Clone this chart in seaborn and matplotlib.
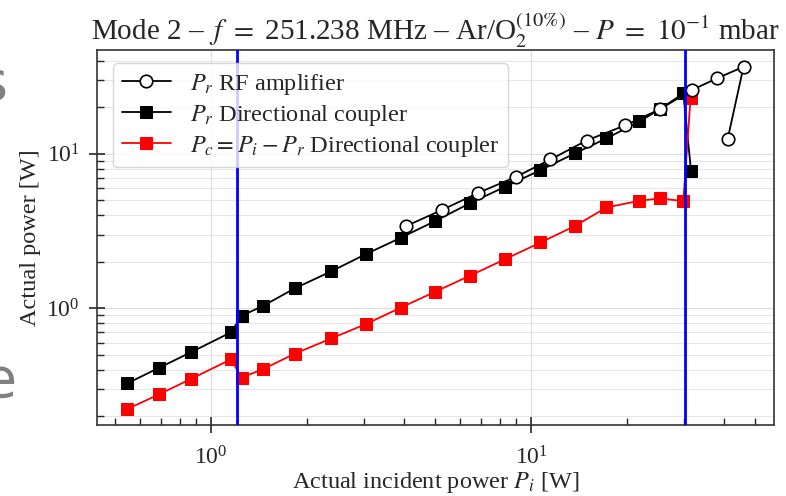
import numpy as np
import pandas as pd
import matplotlib
matplotlib.use("Agg")
import matplotlib.pyplot as plt
import seaborn as sns

# ---- data ----
amp_pi = [4.07, 5.26, 6.85, 8.98, 11.5, 14.9, 19.7, 25.2, 31.8, 38.2, 46.1, 41.1]
amp_pr = [3.41, 4.33, 5.60, 7.11, 9.20, 12.2, 15.3, 19.4, 25.9, 30.9, 36.6, 12.4]

dc_pi = [0.547, 0.689, 0.864, 1.155, 1.247, 1.457, 1.83, 2.38, 3.04, 3.91,
         5.01, 6.45, 8.29, 10.7, 13.7, 17.2, 21.8, 25.2, 29.9, 31.6]
dc_pr = [0.327, 0.413, 0.519, 0.700, 0.896, 1.04, 1.35, 1.74, 2.24, 2.86,
         3.67, 4.80, 6.12, 7.85, 10.07, 12.6, 16.2, 19.4, 24.6, 7.78]
dc_pc = [0.223, 0.278, 0.349, 0.468, 0.357, 0.405, 0.51, 0.64, 0.79, 1.01,
         1.28, 1.63, 2.08, 2.67, 3.41, 4.50, 4.97, 5.15, 4.95, 23.1]
pc_pi = dc_pi[:-1] + [31.5]

vlines = [1.203, 30.3]

title = r"Mode 2 – $\,f$ $=$ 251.238 MHz – Ar/O$_2^{(10\%)}$ – $P$ $=$ $10^{-1}$ mbar"
xlabel = r"Actual incident power $P_i$ [W]"
ylabel = "Actual power [W]"
labels = [r"$P_r$ RF amplifier", r"$P_r$ Directional coupler",
          r"$P_c = P_i - P_r$ Directional coupler"]

# ---- style ----
sns.set_style("ticks")
plt.rcParams["font.family"] = ["Liberation Serif", "DejaVu Serif"]
plt.rcParams["mathtext.fontset"] = "stix"

fig = plt.figure(figsize=(7.86, 4.96), dpi=100)
ax = fig.add_axes([96.5 / 786, 1 - 425 / 496, (774 - 96.5) / 786, (425 - 50) / 496])

df_amp = pd.DataFrame({"x": amp_pi, "y": amp_pr})
df_dc = pd.DataFrame({"x": dc_pi, "y": dc_pr})
df_pc = pd.DataFrame({"x": pc_pi, "y": dc_pc})

sns.lineplot(data=df_amp, x="x", y="y", ax=ax, sort=False, estimator=None,
             color="black", lw=1.3, marker="o", markersize=9,
             markerfacecolor="white", markeredgecolor="black", markeredgewidth=1.2,
             label=labels[0], zorder=4)
sns.lineplot(data=df_dc, x="x", y="y", ax=ax, sort=False, estimator=None,
             color="black", lw=1.3, marker="s", markersize=8,
             markerfacecolor="black", markeredgecolor="black",
             label=labels[1], zorder=3)
sns.lineplot(data=df_pc, x="x", y="y", ax=ax, sort=False, estimator=None,
             color="red", lw=1.3, marker="s", markersize=8,
             markerfacecolor="red", markeredgecolor="red",
             label=labels[2], zorder=3)

for v in vlines:
    ax.axvline(v, color="#0000ff", lw=2, zorder=4.5)

ax.set_xscale("log")
ax.set_yscale("log")
ax.set_xlim(0.439, 57.4)
ax.set_ylim(0.176, 47.0)

ax.grid(which="major", axis="both", color="#dddddd", lw=0.8)
ax.grid(which="minor", axis="y", color="#e6e6e6", lw=0.8)
ax.set_axisbelow(True)

ax.tick_params(which="major", direction="inout", length=12, width=1.2, labelsize=17)
ax.tick_params(axis="x", which="major", pad=9)
ax.tick_params(axis="y", which="major", pad=6)
ax.tick_params(which="minor", direction="in", length=5, width=1.0)
for s in ax.spines.values():
    s.set_linewidth(1.2)
    s.set_color("#333333")

ax.set_title(title, fontsize=21, pad=5)
ax.set_xlabel(xlabel, fontsize=17.5, labelpad=1)
ax.set_ylabel(ylabel, fontsize=17.5, labelpad=4)

leg = ax.legend(loc="upper left", fontsize=17.5, frameon=True, framealpha=0.8,
                edgecolor="#cccccc", handlelength=2.0, borderpad=0.35,
                labelspacing=0.25, handletextpad=0.8,
                bbox_to_anchor=(0.007, 0.997))
leg.set_zorder(6)

# slide remnants at left edge
fig.text(8 / 786, 1 - 100 / 496, "s", fontsize=40, color="#808080", ha="right",
         va="baseline", family="DejaVu Sans")
fig.text(17 / 786, 1 - 397 / 496, "e", fontsize=40, color="#808080", ha="right",
         va="baseline", family="DejaVu Sans")

fig.savefig("out.png", dpi=100)
